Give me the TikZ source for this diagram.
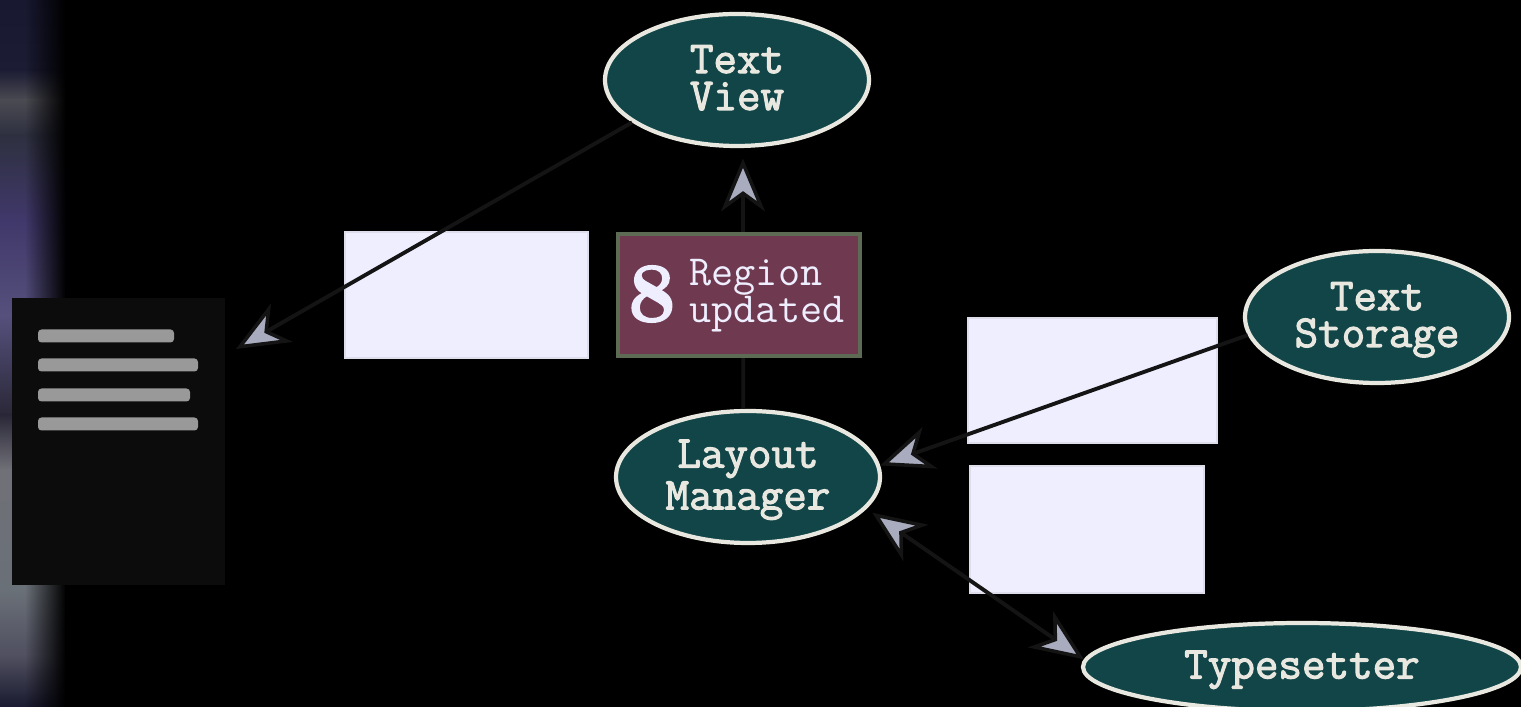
\documentclass[tikz,border=0pt]{standalone}
\usepackage{fontspec}
\usetikzlibrary{arrows.meta,shapes.geometric,fadings}
\newfontfamily\slabfont[FakeBold=2.4]{Latin Modern Mono}
\newfontfamily\legerfont{Latin Modern Mono}
\newfontfamily\chiffrefont[BoldFeatures={FakeBold=2}]{Latin Modern Roman}
\definecolor{sarcelle}{HTML}{124548}
\definecolor{creme}{HTML}{E8E8E0}
\definecolor{lavande}{HTML}{EEEEFF}
\definecolor{bordeaux}{HTML}{6F3A4F}
\definecolor{olive}{HTML}{5D6B55}
\definecolor{pointe}{HTML}{A9ACBF}
\definecolor{trait}{HTML}{141414}
\definecolor{page}{HTML}{0C0C0C}
\tikzfading[name=bord, left color=transparent!100, right color=transparent!0]
\begin{document}
\begin{tikzpicture}[x=0.01cm, y=-0.01cm]
\tikzstyle{ovale} = [ellipse, draw=creme, fill=sarcelle, line width=1.2pt, minimum width=264*0.01cm, minimum height=132*0.01cm, inner sep=0pt, text depth=1.4pt, align=center, text=creme, font=\slabfont\fontsize{13}{10.5}\selectfont]
\tikzstyle{fenetre} = [rectangle, fill=lavande, draw=lavande!85!gray, line width=0.3pt, inner sep=0pt]
\tikzstyle{ligne} = [rectangle, fill=gray!80, rounded corners=1pt, inner sep=0pt, minimum height=13*0.01cm]
\tikzstyle{fleche} = [draw=trait, line width=1.1pt, -{Stealth[length=15pt, width=12.5pt, inset=4.5pt, fill=pointe, line width=1pt]}]
\tikzstyle{doublefleche} = [draw=trait, line width=1.1pt, {Stealth[length=15pt, width=12.5pt, inset=4.5pt, fill=pointe, line width=1pt]}-{Stealth[length=15pt, width=12.5pt, inset=4.5pt, fill=pointe, line width=1pt]}]
\clip (0,0) rectangle (1521,707);
\fill[black] (0,0) rectangle (1521,707);
% bande de gauche
\foreach \ya/\yb/\ca/\cb in {0/70/181830/1C1C34, 70/100/1C1C34/4A4A52, 100/135/4A4A52/2E3040, 135/220/2E3040/40386A, 220/316/40386A/55507C, 316/415/55507C/2A2838, 415/470/2A2838/707078, 470/590/707078/6A7078, 590/655/6A7078/505060, 655/707/505060/1A1A30}{
  \definecolor{cha}{HTML}{\ca}
  \definecolor{chb}{HTML}{\cb}
  \shade[top color=cha, bottom color=chb] (0,\ya) rectangle (65,\yb);
}
\fill[black, path fading=bord] (25,0) rectangle (66,707);
% fenetres
\node[fenetre, minimum width=243*0.01cm, minimum height=126*0.01cm] (F1) at (466.5,295) {};
\node[fenetre, minimum width=249*0.01cm, minimum height=125*0.01cm] (F2) at (1092.5,380.5) {};
\node[fenetre, minimum width=234*0.01cm, minimum height=127*0.01cm] (F3) at (1087,529.5) {};
% objets
\node[ovale] (TV) at (737,80) {Text\\View};
\node[ovale] (TS) at (1377,317) {Text\\Storage};
\node[ovale] (LM) at (748,477) {Layout\\Manager};
\node[ovale, minimum width=438*0.01cm, minimum height=88*0.01cm] (TY) at (1302,667) {Typesetter};
% document
\node[rectangle, fill=page, minimum width=213*0.01cm, minimum height=287*0.01cm, inner sep=0pt] (D) at (118.5,441.5) {};
\node[ligne, minimum width=136*0.01cm] (L1) at (106,336) {};
\node[ligne, minimum width=160*0.01cm] (L2) at (118,365) {};
\node[ligne, minimum width=152*0.01cm] (L3) at (114,395) {};
\node[ligne, minimum width=160*0.01cm] (L4) at (118,424) {};
\coordinate (P) at (236,349);
% connecteurs
\draw[fleche] (TV.202) -- (P);
\draw[fleche, shorten >=3pt] (LM.94) -- (TV.275);
\draw[fleche] (TS.188) -- (LM.5);
\draw[doublefleche, shorten <=2pt] (LM.-15) -- (TY.178);
% region
\node[rectangle, draw=olive, fill=bordeaux, line width=1.3pt, minimum width=242*0.01cm, minimum height=122*0.01cm, inner sep=0pt] (R) at (739,295) {};
\node[text=lavande, font=\chiffrefont\bfseries\fontsize{24}{24}\selectfont, inner sep=0pt] (N) at (652,294) {8};
\node[text=lavande, font=\legerfont\fontsize{12.2}{10.5}\selectfont, align=left, inner sep=0pt, anchor=west] (T) at (689,296) {Region\\updated};
\end{tikzpicture}
\end{document}
